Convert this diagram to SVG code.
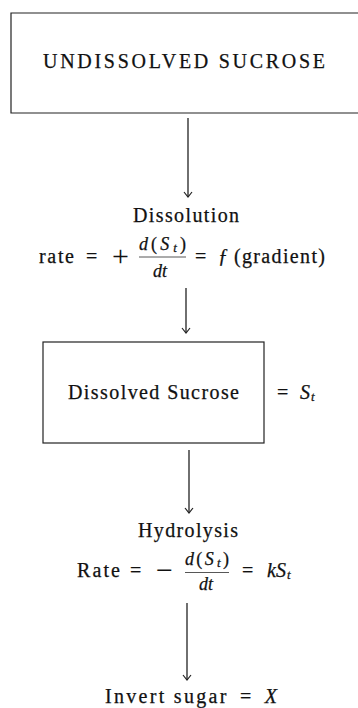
<svg xmlns="http://www.w3.org/2000/svg" width="358" height="708" viewBox="0 0 358 708" font-family="'Liberation Serif', 'Times New Roman', serif">
<style>
text{font-family:"Liberation Serif","Times New Roman",serif;fill:#111;stroke:#111;stroke-width:0.25;font-size:20px}
.it{font-style:italic}
.sm{font-size:18px}
.sub{font-size:13px;font-style:italic}
.op{font-size:30px;stroke-width:0}
.box{fill:none;stroke:#222;stroke-width:1.2}
.conn{stroke:#222;stroke-width:1.3;fill:none}
.bar{stroke:#444;stroke-width:0.9}
</style>
<defs>
<marker id="ah" viewBox="0 0 10 10" refX="9" refY="5" markerWidth="10" markerHeight="10" markerUnits="userSpaceOnUse" orient="auto">
<path d="M4,1 L9,5 L4,9" fill="none" stroke="#222" stroke-width="1.2"/>
</marker>
</defs>
<rect width="358" height="708" fill="#fff"/>
<g id="undissolved">
<path class="box" d="M358,13 H11 V113 H358"/>
<text x="43" y="68" font-size="20" textLength="282" lengthAdjust="spacing">UNDISSOLVED SUCROSE</text>
</g>
<g id="connectors">
<line class="conn" x1="188" y1="118" x2="188" y2="197" marker-end="url(#ah)"/>
<line class="conn" x1="186" y1="288" x2="186" y2="333" marker-end="url(#ah)"/>
<line class="conn" x1="189" y1="450" x2="189" y2="513" marker-end="url(#ah)"/>
<line class="conn" x1="187" y1="603" x2="187" y2="680" marker-end="url(#ah)"/>
</g>
<g id="dissolution">
<text x="133" y="222" textLength="106" lengthAdjust="spacing">Dissolution</text>
<text x="39" y="263" textLength="35" lengthAdjust="spacing">rate</text>
<text x="86" y="263">=</text>
<text x="112" y="266" class="op">+</text>
<text x="139" y="250" class="sm" textLength="47" lengthAdjust="spacing"><tspan class="it">d</tspan>(<tspan class="it">S</tspan><tspan class="sub" dx="1" dy="2">t</tspan><tspan dy="-2">)</tspan></text>
<line class="bar" x1="139" y1="257" x2="186" y2="257"/>
<text x="153" y="277" class="sm it">dt</text>
<text x="195" y="263">=</text>
<text x="218" y="263" class="it">ƒ</text>
<text x="234" y="263" textLength="91" lengthAdjust="spacing">(gradient)</text>
</g>
<g id="dissolved">
<rect class="box" x="43" y="342" width="221" height="101"/>
<text x="68" y="399" textLength="171" lengthAdjust="spacing">Dissolved Sucrose</text>
<text x="277" y="399">=</text>
<text x="300" y="399" class="it">S<tspan class="sub" dx="1" dy="2">t</tspan></text>
</g>
<g id="hydrolysis">
<text x="138" y="537" textLength="100" lengthAdjust="spacing">Hydrolysis</text>
<text x="77" y="577" textLength="43" lengthAdjust="spacing">Rate</text>
<text x="130" y="577">=</text>
<text x="156" y="580" class="op">−</text>
<text x="185" y="565" class="sm" textLength="44" lengthAdjust="spacing"><tspan class="it">d</tspan>(<tspan class="it">S</tspan><tspan class="sub" dx="1" dy="2">t</tspan><tspan dy="-2">)</tspan></text>
<line class="bar" x1="185" y1="572.5" x2="229" y2="572.5"/>
<text x="199" y="590" class="sm it">dt</text>
<text x="242" y="577">=</text>
<text x="267" y="577" class="it">kS<tspan class="sub" dx="1" dy="2">t</tspan></text>
</g>
<g id="invert">
<text x="105" y="703" textLength="172" lengthAdjust="spacing">Invert sugar <tspan dx="4">=</tspan> <tspan class="it" dx="4">X</tspan></text>
</g>
</svg>
